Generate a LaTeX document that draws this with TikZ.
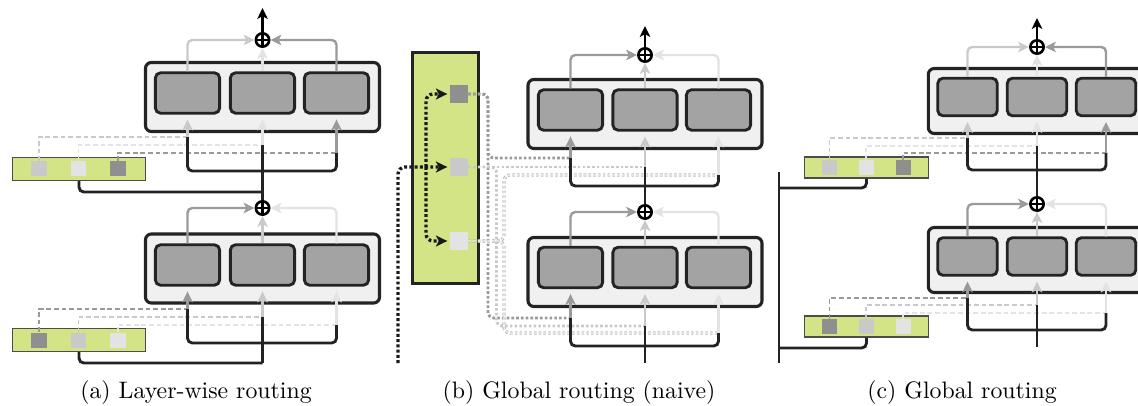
\documentclass[tikz,border=0pt]{standalone}
\usepackage{tikz}
\usetikzlibrary{arrows.meta}

\definecolor{linecol}{HTML}{232323}
\definecolor{layerfill}{HTML}{F0F0F0}
\definecolor{expertfill}{HTML}{A3A3A3}
\definecolor{routerfill}{HTML}{D3E486}
\definecolor{wdark}{HTML}{9A9A9A}
\definecolor{wlight}{HTML}{C9C9C9}
\definecolor{wpale}{HTML}{E3E3E3}
\definecolor{wdarksq}{HTML}{8F8F8F}

\begin{document}
\begin{tikzpicture}[
    x = 0.42pt, y = -0.42pt,
    %
    layerbox/.style = {draw = linecol, line width = 1.3pt, fill = layerfill,
      rounded corners = 2.5pt,
      minimum width = 98.3pt, minimum height = 29pt},
    layerbox small/.style = {layerbox,
      minimum width = 91.3pt, minimum height = 27.3pt},
    expert/.style = {draw = linecol, line width = 1.2pt, fill = expertfill,
      rounded corners = 2.2pt,
      minimum width = 27pt, minimum height = 17pt},
    expert small/.style = {expert,
      minimum width = 25pt, minimum height = 15.8pt},
    router/.style = {draw = black!70, line width = 0.6pt, fill = routerfill,
      minimum width = 56pt, minimum height = 9.6pt},
    router small/.style = {router,
      minimum width = 52pt, minimum height = 8.7pt},
    token/.style = {minimum width = 6.7pt, minimum height = 6.3pt,
      inner sep = 0pt},
    token small/.style = {token,
      minimum width = 6.3pt, minimum height = 5.9pt},
    adder/.style = {circle, draw = black, line width = 1.1pt, fill = white,
      minimum size = 5.6pt, inner sep = 0pt,
      path picture = {\draw [line width = 0.9pt]
        (path picture bounding box.north) -- (path picture bounding box.south)
        (path picture bounding box.west) -- (path picture bounding box.east);}},
    %
    feed/.style = {draw = linecol, line width = 1.2pt, rounded corners = 2pt},
    gate/.style = {line width = 0.8pt, dash pattern = on 2pt off 1.2pt},
    dotgate/.style = {line width = 1.2pt, dash pattern = on 1.1pt off 0.9pt,
      rounded corners = 2.5pt},
    dotpale/.style = {line width = 0.45pt, draw = black!25,
      double = black!4, double distance = 0.45pt},
    wire/.style = {line width = 1pt, rounded corners = 2pt,
      -{Stealth[length = 4.6pt, width = 4.4pt, inset = 1.2pt]}},
    outarrow/.style = {draw = black, line width = 1.1pt,
      -{Stealth[length = 4.6pt, width = 4.4pt, inset = 1.2pt]}},
    tokenpath/.style = {draw = black!90, line width = 1.4pt,
      dash pattern = on 1.2pt off 1pt, rounded corners = 3pt,
      -{Stealth[length = 4.8pt, width = 4.6pt, inset = 1.2pt]}},
    caption/.style = {anchor = base},
    ]

    \useasboundingbox (0, 0) rectangle (1138, 406);
    \clip (0, 0) rectangle (1138, 406);

    % (a) layer-wise routing
    \node at (262.5, 97) [layerbox, name = A2] {};
    \node at (187.5, 93) [expert, name = A2e1] {};
    \node at (262.5, 93) [expert, name = A2e2] {};
    \node at (336.5, 93) [expert, name = A2e3] {};
    \node at (262.5, 40) [adder, name = A2s] {};
    \coordinate (A2o) at (262.5, 8);

    \node at (262.5, 268.5) [layerbox, name = A1] {};
    \node at (187.5, 265) [expert, name = A1e1] {};
    \node at (262.5, 265) [expert, name = A1e2] {};
    \node at (336.5, 265) [expert, name = A1e3] {};
    \node at (262.5, 208) [adder, name = A1s] {};

    \node at (79, 169) [router, name = A2r] {};
    \node at (39, 169) [token, fill = wlight, name = A2w1] {};
    \node at (78.5, 169) [token, fill = wpale, name = A2w2] {};
    \node at (118, 169) [token, fill = wdarksq, name = A2w3] {};

    \node at (79, 340) [router, name = A1r] {};
    \node at (39, 340) [token, fill = wdarksq, name = A1w1] {};
    \node at (78.5, 340) [token, fill = wlight, name = A1w2] {};
    \node at (118, 340) [token, fill = wpale, name = A1w3] {};

    \coordinate (A2j1) at (187.5, 137);
    \coordinate (A2j2) at (262.5, 145);
    \coordinate (A2j3) at (336.5, 153);
    \coordinate (A2b) at (262.5, 171);
    \coordinate (A2t) at (262.5, 192);
    \coordinate (A1j1) at (187.5, 309);
    \coordinate (A1j2) at (262.5, 317);
    \coordinate (A1j3) at (336.5, 325);
    \coordinate (A1b) at (262.5, 343);
    \coordinate (A1i) at (262.5, 363);

    \draw [gate, wlight] (A2w1.north) |- (A2j1);
    \draw [gate, wpale] (A2w2.north) |- (A2j2);
    \draw [gate, wdark] (A2w3.north) |- (A2j3);
    \draw [gate, wdark] (A1w1.north) |- (A1j1);
    \draw [gate, wlight] (A1w2.north) |- (A1j2);
    \draw [gate, wpale] (A1w3.north) |- (A1j3);

    \draw [feed] (A2j1) |- (A2b) -| (A2j3);
    \draw [feed] (A1s.north) -- (A2j2);
    \draw [feed] (A2r.south) |- (A2t);
    \draw [feed] (A1j1) |- (A1b) -| (A1j3);
    \draw [feed] (A1i) -- (A1j2);
    \draw [feed] (A1r.south) |- (A1i);

    \draw [wire, wlight, shorten > = 2pt] (A2j1) -- (A2e1.south);
    \draw [wire, wpale, shorten > = 2pt] (A2j2) -- (A2e2.south);
    \draw [wire, wdark, shorten > = 2pt] (A2j3) -- (A2e3.south);
    \draw [wire, wlight] (A2e1.north) |- (A2s.west);
    \draw [wire, wpale] (A2e2.north) -- (A2s.south);
    \draw [wire, wdark] (A2e3.north) |- (A2s.east);
    \draw [outarrow] (A2s.north) -- (A2o);

    \draw [wire, wdark, shorten > = 2pt] (A1j1) -- (A1e1.south);
    \draw [wire, wlight, shorten > = 2pt] (A1j2) -- (A1e2.south);
    \draw [wire, wpale, shorten > = 2pt] (A1j3) -- (A1e3.south);
    \draw [wire, wdark] (A1e1.north) |- (A1s.west);
    \draw [wire, wlight] (A1e2.north) -- (A1s.south);
    \draw [wire, wpale] (A1e3.north) |- (A1s.east);

    % (b) global routing, naive
    \node at (645, 114) [layerbox, name = B2] {};
    \node at (570.5, 110) [expert, name = B2e1] {};
    \node at (645, 110) [expert, name = B2e2] {};
    \node at (718.5, 110) [expert, name = B2e3] {};
    \node at (645, 55) [adder, name = B2s] {};
    \coordinate (B2o) at (645, 26);

    \node at (645, 272) [layerbox, name = B1] {};
    \node at (570.5, 267.5) [expert, name = B1e1] {};
    \node at (645, 267.5) [expert, name = B1e2] {};
    \node at (718.5, 267.5) [expert, name = B1e3] {};
    \node at (645, 212) [adder, name = B1s] {};

    \node at (445.5, 168) [router, draw = linecol, line width = 1.2pt,
      minimum width = 28pt, minimum height = 97.3pt, name = BR] {};
    \node at (459, 94) [token, minimum size = 7.4pt, fill = wdarksq,
      name = BRw1] {};
    \node at (459, 167) [token, minimum size = 7.4pt, fill = wlight,
      name = BRw2] {};
    \node at (459, 241) [token, minimum size = 7.4pt, fill = wpale,
      name = BRw3] {};

    \coordinate (B2j1) at (570.5, 158);
    \coordinate (B2j2) at (645, 167);
    \coordinate (B2j3) at (718.5, 175);
    \coordinate (B2b) at (645, 186);
    \coordinate (B1j1) at (570.5, 318);
    \coordinate (B1j2) at (645, 326);
    \coordinate (B1j3) at (718.5, 333);
    \coordinate (B1b) at (645, 346);
    \coordinate (B1i) at (645, 363);
    \coordinate (BRi) at (398, 363);
    \coordinate (BRk) at (426, 167);

    \draw [tokenpath, shorten > = 1pt] (BRi) |- (BRw2.west);
    \draw [tokenpath, shorten > = 1pt] (BRk) |- (BRw1.west);
    \draw [tokenpath, shorten > = 1pt] (BRk) |- (BRw3.west);

    \draw [dotgate, wdark] (BRw1.east) -| (488, 158) -- (B2j1);
    \draw [dotgate, wdark] (BRw1.east) -| (488, 318) -- (B1j1);
    \draw [dotgate, wlight] (BRw2.east) -- (B2j2);
    \draw [dotgate, wlight] (BRw2.east) -| (496.5, 326) -- (B1j2);
    \draw [dotgate, dotpale] (BRw3.east) -| (504, 175) -- (B2j3);
    \draw [dotgate, dotpale] (BRw3.east) -| (504, 333) -- (B1j3);

    \draw [feed] (B2j1) |- (B2b) -| (B2j3);
    \draw [feed] (B1s.north) -- (B2j2);
    \draw [feed] (B1j1) |- (B1b) -| (B1j3);
    \draw [feed] (B1i) -- (B1j2);

    \draw [wire, wdark, shorten > = 2pt] (B2j1) -- (B2e1.south);
    \draw [wire, wlight, shorten > = 2pt] (B2j2) -- (B2e2.south);
    \draw [wire, wpale, shorten > = 2pt] (B2j3) -- (B2e3.south);
    \draw [wire, wdark] (B2e1.north) |- (B2s.west);
    \draw [wire, wlight] (B2e2.north) -- (B2s.south);
    \draw [wire, wpale] (B2e3.north) |- (B2s.east);
    \draw [outarrow] (B2s.north) -- (B2o);

    \draw [wire, wdark, shorten > = 2pt] (B1j1) -- (B1e1.south);
    \draw [wire, wlight, shorten > = 2pt] (B1j2) -- (B1e2.south);
    \draw [wire, wpale, shorten > = 2pt] (B1j3) -- (B1e3.south);
    \draw [wire, wdark] (B1e1.north) |- (B1s.west);
    \draw [wire, wlight] (B1e2.north) -- (B1s.south);
    \draw [wire, wpale] (B1e3.north) |- (B1s.east);

    % (c) global routing
    \node at (1037, 101) [layerbox small, name = C2] {};
    \node at (967.5, 97) [expert small, name = C2e1] {};
    \node at (1037, 97) [expert small, name = C2e2] {};
    \node at (1106, 97) [expert small, name = C2e3] {};
    \node at (1037, 47) [adder, name = C2s] {};
    \coordinate (C2o) at (1037, 18);

    \node at (1037, 260) [layerbox small, name = C1] {};
    \node at (967.5, 256.5) [expert small, name = C1e1] {};
    \node at (1037, 256.5) [expert small, name = C1e2] {};
    \node at (1106, 256.5) [expert small, name = C1e3] {};
    \node at (1037, 204) [adder, name = C1s] {};

    \node at (866.5, 167.5) [router small, name = C2r] {};
    \node at (829.5, 167.5) [token small, fill = wlight, name = C2w1] {};
    \node at (866, 167.5) [token small, fill = wpale, name = C2w2] {};
    \node at (903, 167.5) [token small, fill = wdarksq, name = C2w3] {};

    \node at (866.5, 326.5) [router small, name = C1r] {};
    \node at (829.5, 326.5) [token small, fill = wdarksq, name = C1w1] {};
    \node at (866, 326.5) [token small, fill = wlight, name = C1w2] {};
    \node at (903, 326.5) [token small, fill = wpale, name = C1w3] {};

    \coordinate (C2j1) at (967.5, 138);
    \coordinate (C2j2) at (1037, 146);
    \coordinate (C2j3) at (1106, 153);
    \coordinate (C2b) at (1037, 170);
    \coordinate (C1j1) at (967.5, 298);
    \coordinate (C1j2) at (1037, 305);
    \coordinate (C1j3) at (1106, 313);
    \coordinate (C1b) at (1037, 330);
    \coordinate (C1i) at (1037, 347);
    \coordinate (CRt) at (779, 172);
    \coordinate (CR2) at (779, 188);
    \coordinate (CR1) at (779, 348);
    \coordinate (CRi) at (779, 363);

    \draw [gate, wlight] (C2w1.north) |- (C2j1);
    \draw [gate, wpale] (C2w2.north) |- (C2j2);
    \draw [gate, wdark] (C2w3.north) |- (C2j3);
    \draw [gate, wdark] (C1w1.north) |- (C1j1);
    \draw [gate, wlight] (C1w2.north) |- (C1j2);
    \draw [gate, wpale] (C1w3.north) |- (C1j3);

    \draw [feed] (CRt) -- (CRi);
    \draw [feed] (C2r.south) |- (CR2);
    \draw [feed] (C1r.south) |- (CR1);
    \draw [feed] (C2j1) |- (C2b) -| (C2j3);
    \draw [feed] (C1s.north) -- (C2j2);
    \draw [feed] (C1j1) |- (C1b) -| (C1j3);
    \draw [feed] (C1i) -- (C1j2);

    \draw [wire, wlight, shorten > = 2pt] (C2j1) -- (C2e1.south);
    \draw [wire, wpale, shorten > = 2pt] (C2j2) -- (C2e2.south);
    \draw [wire, wdark, shorten > = 2pt] (C2j3) -- (C2e3.south);
    \draw [wire, wlight] (C2e1.north) |- (C2s.west);
    \draw [wire, wpale] (C2e2.north) -- (C2s.south);
    \draw [wire, wdark] (C2e3.north) |- (C2s.east);
    \draw [outarrow] (C2s.north) -- (C2o);

    \draw [wire, wdark, shorten > = 2pt] (C1j1) -- (C1e1.south);
    \draw [wire, wlight, shorten > = 2pt] (C1j2) -- (C1e2.south);
    \draw [wire, wpale, shorten > = 2pt] (C1j3) -- (C1e3.south);
    \draw [wire, wdark] (C1e1.north) |- (C1s.west);
    \draw [wire, wlight] (C1e2.north) -- (C1s.south);
    \draw [wire, wpale] (C1e3.north) |- (C1s.east);

    % captions
    \node at (196, 398) [caption, name = capa] {(a) Layer-wise routing};
    \node at (579, 398) [caption, name = capb] {(b) Global routing (naive)};
    \node at (962, 398) [caption, name = capc] {(c) Global routing};

\end{tikzpicture}
\end{document}
